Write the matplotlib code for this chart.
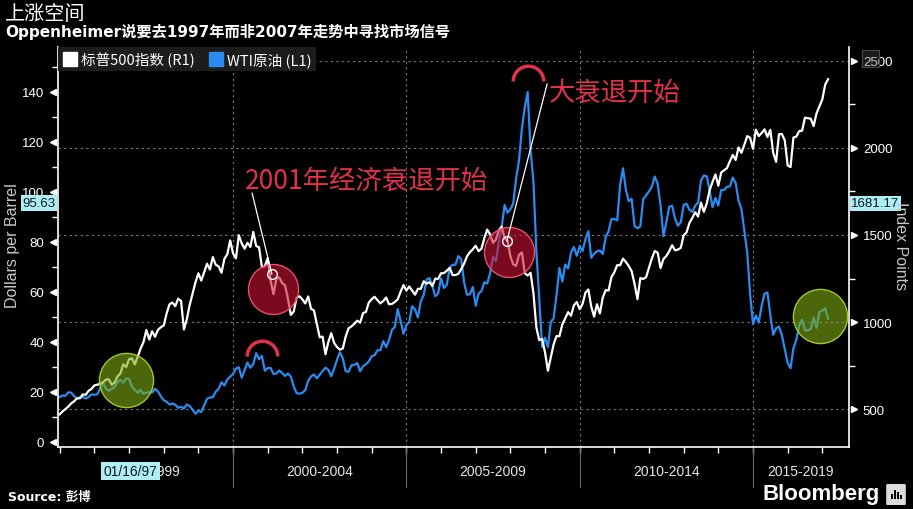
import numpy as np
import matplotlib.pyplot as plt
import matplotlib.transforms as mtransforms
from matplotlib.path import Path
from matplotlib.lines import Line2D
from matplotlib.patches import Rectangle, FancyBboxPatch

plt.rcParams['font.family'] = ['Liberation Sans', 'Noto Sans CJK SC', 'DejaVu Sans']

# -----------------------------------
# data (monthly, Jan 1995 - Mar 2017)
# -----------------------------------
start_year = 1995

# WTI crude, dollars per barrel (left axis)
wti = [
    18.0, 18.6, 18.5, 19.9, 19.7, 18.4, 17.3, 17.9, 18.0, 17.4, 18.0, 19.0,   # 1995
    18.9, 19.1, 21.4, 23.6, 21.3, 20.5, 21.3, 22.0, 24.0, 24.9, 23.7, 25.4,   # 1996
    25.2, 22.2, 20.9, 19.7, 20.8, 19.3, 19.7, 19.9, 19.8, 21.3, 20.2, 18.3,   # 1997
    16.7, 16.1, 15.0, 15.4, 14.9, 13.7, 14.1, 13.4, 15.0, 14.4, 12.9, 11.3,   # 1998
    12.5, 12.0, 14.7, 17.3, 17.8, 17.9, 20.1, 21.3, 23.9, 22.6, 25.0, 26.1,   # 1999
    27.2, 29.4, 29.9, 25.7, 28.8, 31.8, 29.7, 31.2, 35.5, 33.1, 34.4, 28.5,   # 2000
    29.6, 29.6, 27.2, 27.4, 28.6, 27.6, 26.4, 27.4, 26.2, 22.2, 19.6, 19.3,   # 2001
    19.7, 20.7, 24.5, 26.2, 27.0, 25.5, 26.9, 28.4, 29.7, 28.9, 26.3, 29.4,   # 2002
    32.9, 35.9, 33.5, 28.3, 28.1, 30.7, 30.8, 31.6, 28.3, 30.3, 31.1, 32.2,   # 2003
    34.3, 34.7, 36.7, 36.7, 40.3, 38.0, 40.7, 44.9, 45.9, 53.1, 48.5, 43.3,   # 2004
    46.8, 48.0, 54.3, 53.0, 49.8, 56.3, 58.7, 65.0, 65.6, 62.4, 58.3, 59.4,   # 2005
    65.5, 61.6, 62.9, 69.7, 70.9, 70.9, 74.4, 73.0, 63.8, 58.9, 59.1, 62.0,   # 2006
    54.5, 59.3, 60.4, 63.9, 63.4, 67.5, 74.1, 72.4, 79.9, 85.8, 94.8, 91.7,   # 2007
    93.0, 95.4, 105.5, 112.6, 125.4, 133.9, 140.0, 116.7, 104.1, 76.6, 57.3, 38.0,  # 2008
    41.7, 38.0, 47.9, 49.6, 59.0, 69.6, 64.2, 71.0, 69.4, 75.7, 78.0, 74.5,   # 2009
    78.3, 76.4, 81.2, 84.3, 73.7, 75.3, 76.3, 76.6, 75.2, 81.9, 84.3, 89.2,   # 2010
    89.2, 88.6, 102.9, 109.5, 100.9, 96.3, 97.3, 86.3, 85.5, 86.3, 97.2, 98.6,  # 2011
    100.3, 102.2, 106.2, 103.3, 94.7, 82.3, 87.9, 94.1, 94.5, 89.5, 86.5, 87.9,  # 2012
    94.8, 95.3, 92.9, 92.0, 94.5, 95.8, 104.6, 106.6, 106.3, 100.5, 93.9, 97.6,  # 2013
    94.6, 100.8, 100.8, 102.1, 102.2, 105.8, 103.6, 96.5, 93.2, 84.4, 75.8, 59.3,  # 2014
    47.2, 50.6, 47.8, 54.5, 59.3, 59.8, 50.9, 42.9, 45.5, 46.2, 42.7, 37.2,   # 2015
    31.7, 29.5, 37.5, 40.8, 46.7, 48.8, 44.7, 44.7, 45.2, 49.8, 45.7, 52.0,   # 2016
    52.5, 53.5, 49.3,                                                         # 2017
]

# S&P 500 index points (right axis)
spx = [
    470, 487, 500, 515, 533, 545, 562, 562, 584, 582, 605, 616,               # 1995
    636, 640, 645, 654, 669, 671, 640, 652, 687, 705, 757, 741,               # 1996
    786, 791, 757, 801, 848, 885, 954, 899, 947, 915, 955, 970,               # 1997
    980, 1049, 1102, 1112, 1091, 1134, 1121, 957, 1017, 1099, 1164, 1229,     # 1998
    1280, 1238, 1286, 1335, 1302, 1373, 1329, 1320, 1283, 1363, 1389, 1469,   # 1999
    1394, 1366, 1499, 1452, 1421, 1455, 1431, 1518, 1437, 1429, 1315, 1320,   # 2000
    1366, 1240, 1160, 1249, 1256, 1224, 1211, 1134, 1041, 1060, 1139, 1148,   # 2001
    1130, 1107, 1147, 1076, 1067, 990, 912, 916, 815, 886, 936, 880,          # 2002
    856, 841, 848, 917, 964, 975, 990, 1008, 996, 1051, 1058, 1112,           # 2003
    1131, 1145, 1126, 1107, 1121, 1141, 1102, 1104, 1115, 1130, 1174, 1212,   # 2004
    1181, 1204, 1181, 1157, 1191, 1191, 1234, 1220, 1229, 1207, 1249, 1248,   # 2005
    1280, 1281, 1295, 1311, 1270, 1270, 1277, 1304, 1336, 1378, 1401, 1418,   # 2006
    1438, 1407, 1421, 1482, 1531, 1503, 1455, 1474, 1527, 1549, 1481, 1468,   # 2007
    1379, 1331, 1323, 1386, 1400, 1280, 1267, 1283, 1165, 969, 896, 903,      # 2008
    826, 720, 798, 873, 919, 919, 987, 1021, 1057, 1036, 1096, 1115,          # 2009
    1074, 1104, 1169, 1187, 1089, 1031, 1102, 1049, 1141, 1183, 1181, 1258,   # 2010
    1286, 1327, 1326, 1364, 1345, 1321, 1292, 1219, 1131, 1253, 1247, 1258,   # 2011
    1312, 1366, 1408, 1398, 1310, 1362, 1379, 1407, 1441, 1412, 1416, 1426,   # 2012
    1498, 1515, 1569, 1598, 1631, 1606, 1686, 1633, 1682, 1757, 1806, 1848,   # 2013
    1783, 1859, 1872, 1884, 1924, 1960, 1931, 2003, 1972, 2018, 2068, 2059,   # 2014
    1995, 2105, 2068, 2086, 2107, 2063, 2104, 1972, 1920, 2079, 2080, 2044,   # 2015
    1900, 1890, 2060, 2065, 2097, 2099, 2174, 2171, 2168, 2126, 2199, 2239,   # 2016
    2279, 2364, 2395,                                                         # 2017
]

dates = start_year + np.arange(len(wti)) / 12.0

periods = ['1995-1999', '2000-2004', '2005-2009', '2010-2014', '2015-2019']
period_starts = [1995, 2000, 2005, 2010, 2015]

wti_ticks = [0, 20, 40, 60, 80, 100, 120, 140]
wti_minor = [10, 30, 50, 70, 90, 110, 130, 150]
spx_ticks = [500, 1000, 1500, 2000, 2500]
spx_minor = [750, 1250, 1750, 2250]

# cursor read-outs
cursor_date = 1997 + 15 / 365
cursor_date_label = '01/16/97'
wti_cursor = 95.63
spx_cursor = 1681.17

# annotations (year, dollars per barrel)
green_spots = [(1996.9, 24.8), (2016.93, 50.4)]
red_spots = [(2001.15, 61.2), (2007.96, 76.0)]
red_arcs = [(2000.84, 34.4), (2008.51, 144.4)]
pointer_ends = [(2001.12, 67.2), (2007.90, 80.4)]
pointer_starts = [(2000.55, 99.5), (2009.06, 143.2)]
notes = ['2001年经济衰退开始', '大衰退开始']
note_pos = [(2000.35, 104.5), (2009.1, 140.0)]

blue = '#2a8cf0'
red = '#e2324a'
grid_c = '#7a7a7a'
W, H = 913, 510

# -----------------------------------
# figure and axes
# -----------------------------------
fig = plt.figure(figsize=(W / 100, H / 100), dpi=100, facecolor='black')
ax = fig.add_axes([58 / W, 62 / H, 791 / W, 400 / H])
ax.set_facecolor('black')
ax2 = ax.twinx()

ax.set_xlim(1994.95, 2017.77)
ax.set_ylim(-2, 158)
ax2.set_ylim(282, 2580)

# grid (vertical on years, horizontal on the right-axis ticks)
for yr in period_starts[1:]:
    ax.axvline(yr, color=grid_c, lw=0.8, ls=(0, (2, 3)), zorder=1)
blend = mtransforms.blended_transform_factory(ax.transAxes, ax2.transData)
for v in spx_ticks:
    ax.plot([0, 1], [v, v], transform=blend, color=grid_c, lw=0.8, ls=(0, (2, 3)), zorder=1)

# lines
ax.plot(dates, wti, color=blue, lw=1.6, zorder=2)
ax2.plot(dates, spx, color='white', lw=1.6, zorder=2)

# spines
for a in (ax, ax2):
    for s in a.spines.values():
        s.set_visible(False)
ax.spines['left'].set_visible(True)
ax.spines['bottom'].set_visible(True)
ax2.spines['right'].set_visible(True)
for s in (ax.spines['left'], ax.spines['bottom'], ax2.spines['right']):
    s.set_color('white')
    s.set_linewidth(1.2)

# y ticks
ax.set_yticks(wti_ticks)
ax.set_yticks(wti_minor, minor=True)
ax.tick_params(axis='y', which='major', length=0, pad=10, labelcolor='white', labelsize=9.5)
ax.tick_params(axis='y', which='minor', length=4, color='white', width=1)
ax.plot(np.full(len(wti_ticks), -0.006), wti_ticks, transform=ax.get_yaxis_transform(),
        marker='<', ls='none', ms=5, color='white', clip_on=False)

ax2.set_yticks(spx_ticks)
ax2.set_yticks(spx_minor, minor=True)
ax2.tick_params(axis='y', which='major', length=0, pad=10, labelcolor='white', labelsize=9.5)
ax2.tick_params(axis='y', which='minor', length=4, color='white', width=1)
ax2.plot(np.full(len(spx_ticks), 1.006), spx_ticks, transform=ax2.get_yaxis_transform(),
         marker='>', ls='none', ms=5, color='white', clip_on=False)

# x axis: yearly ticks, 5-year blocks
ax.set_xticks([])
ax.set_xticks(range(1995, 2018), minor=True)
ax.tick_params(axis='x', which='minor', length=4, color='white', width=1)
xt = ax.get_xaxis_transform()
x0, x1 = ax.get_xlim()
for yr in period_starts[1:]:
    ax.plot([yr, yr], [0, -0.1], transform=xt, color='#6a6a6a', lw=0.8, clip_on=False)
for lab, yr in zip(periods, period_starts):
    mid = (max(yr, x0) + min(yr + 5, x1)) / 2
    ax.text(mid, -0.06, lab, transform=xt, ha='center', va='center', color='#e6e6e6', fontsize=10)
ax.text(cursor_date, -0.06, cursor_date_label, transform=xt, ha='center', va='center',
        color='#101820', fontsize=10,
        bbox=dict(boxstyle='square,pad=0.15', fc='#aeeef5', ec='none'))

# cursor value boxes
ax.text(-0.003, wti_cursor, f'{wti_cursor:.2f}', transform=ax.get_yaxis_transform(), ha='right',
        va='center', color='#101820', fontsize=9.5, zorder=5,
        bbox=dict(boxstyle='square,pad=0.12', fc='#aeeef5', ec='none'))
ax2.text(1.003, spx_cursor, f'{spx_cursor:.2f}', transform=ax2.get_yaxis_transform(), ha='left',
         va='center', color='#101820', fontsize=9.5, zorder=5,
         bbox=dict(boxstyle='square,pad=0.12', fc='#aeeef5', ec='none'))

# axis titles
fig.text(13 / W, 1 - 246 / H, 'Dollars per Barrel', rotation=90, ha='center', va='center',
         color='#c8c8c8', fontsize=11.5)
fig.text(900 / W, 1 - 246 / H, 'Index Points', rotation=270, ha='center', va='center',
         color='#c8c8c8', fontsize=11.5)

# annotations (drawn on top layer, in oil units)
td = ax.transData
for x, y in green_spots:
    ax2.plot([x], [y], 'o', transform=td, ms=39, mfc=(0.5, 0.68, 0.08, 0.6),
             mec='#a0c830', mew=1, zorder=6)
for x, y in red_spots:
    ax2.plot([x], [y], 'o', transform=td, ms=36, mfc=(0.8, 0.08, 0.2, 0.6),
             mec='#e8506a', mew=1, zorder=6)
arc = Path.arc(0, 180)
for x, y in red_arcs:
    ax2.plot([x], [y], transform=td, marker=arc, ms=22, mfc='none', mec=red, mew=2.5,
             ls='none', zorder=6)
for (xs, ys), (xe, ye) in zip(pointer_starts, pointer_ends):
    ax2.plot([xs, xe], [ys, ye], transform=td, color='white', lw=0.9, zorder=7)
    ax2.plot([xe], [ye], 'o', transform=td, ms=7, mfc='none', mec='white', mew=1, zorder=7)
for txt, (x, y) in zip(notes, note_pos):
    ax2.text(x, y, txt, transform=td, color=red, fontsize=19, ha='left', va='center',
             family=['Noto Sans CJK SC'], zorder=7)

# legend
handles = [Line2D([], [], marker='s', ls='none', color='white', ms=10),
           Line2D([], [], marker='s', ls='none', color=blue, ms=10)]
leg = ax2.legend(handles, ['标普500指数 (R1)', 'WTI原油 (L1)'], loc='upper left',
                 bbox_to_anchor=(0.0, 1.0), ncol=2, frameon=True, fancybox=False,
                 facecolor='#1c1c1c', edgecolor='none', framealpha=1, labelcolor='white',
                 prop={'family': ['Noto Sans CJK SC'], 'size': 10.5}, handletextpad=0.25,
                 columnspacing=1.0, borderpad=0.3, handlelength=1.0, borderaxespad=0.0)
leg.set_zorder(10)

# titles, source, logo
fig.text(5 / W, 1 - 15 / H, '上涨空间', color='white', fontsize=14.5, va='center',
         family=['Noto Sans CJK SC'])
fig.text(5 / W, 1 - 32 / H, 'Oppenheimer说要去1997年而非2007年走势中寻找市场信号', color='white',
         fontsize=11, va='center', weight='bold', family=['DejaVu Sans', 'Noto Sans CJK SC'])
fig.text(8 / W, 1 - 497 / H, 'Source: 彭博', color='white', fontsize=9, va='center',
         weight='bold', family=['DejaVu Sans', 'Noto Sans CJK SC'])
fig.text(880 / W, 1 - 495 / H, 'Bloomberg', color='white', fontsize=16, va='center', ha='right',
         weight='bold')
fig.patches.append(FancyBboxPatch((888 / W, 1 - 505 / H), 16 / W, 19 / H,
                                  boxstyle='round,pad=0.002', transform=fig.transFigure,
                                  fc='#dcdcdc', ec='none'))
for bx, bh in [(891, 5), (894, 9), (897, 7), (900, 4)]:
    fig.patches.append(Rectangle((bx / W, 1 - 500 / H), 2 / W, bh / H,
                                 transform=fig.transFigure, fc='black', ec='none'))
fig.patches.append(Rectangle((862 / W, 1 - 68 / H), 17 / W, 17 / H, transform=fig.transFigure,
                             fc=(0.3, 0.3, 0.3, 0.35), ec='#4a4a4a', lw=0.8))

fig.savefig('out.png', dpi=100, facecolor='black')
